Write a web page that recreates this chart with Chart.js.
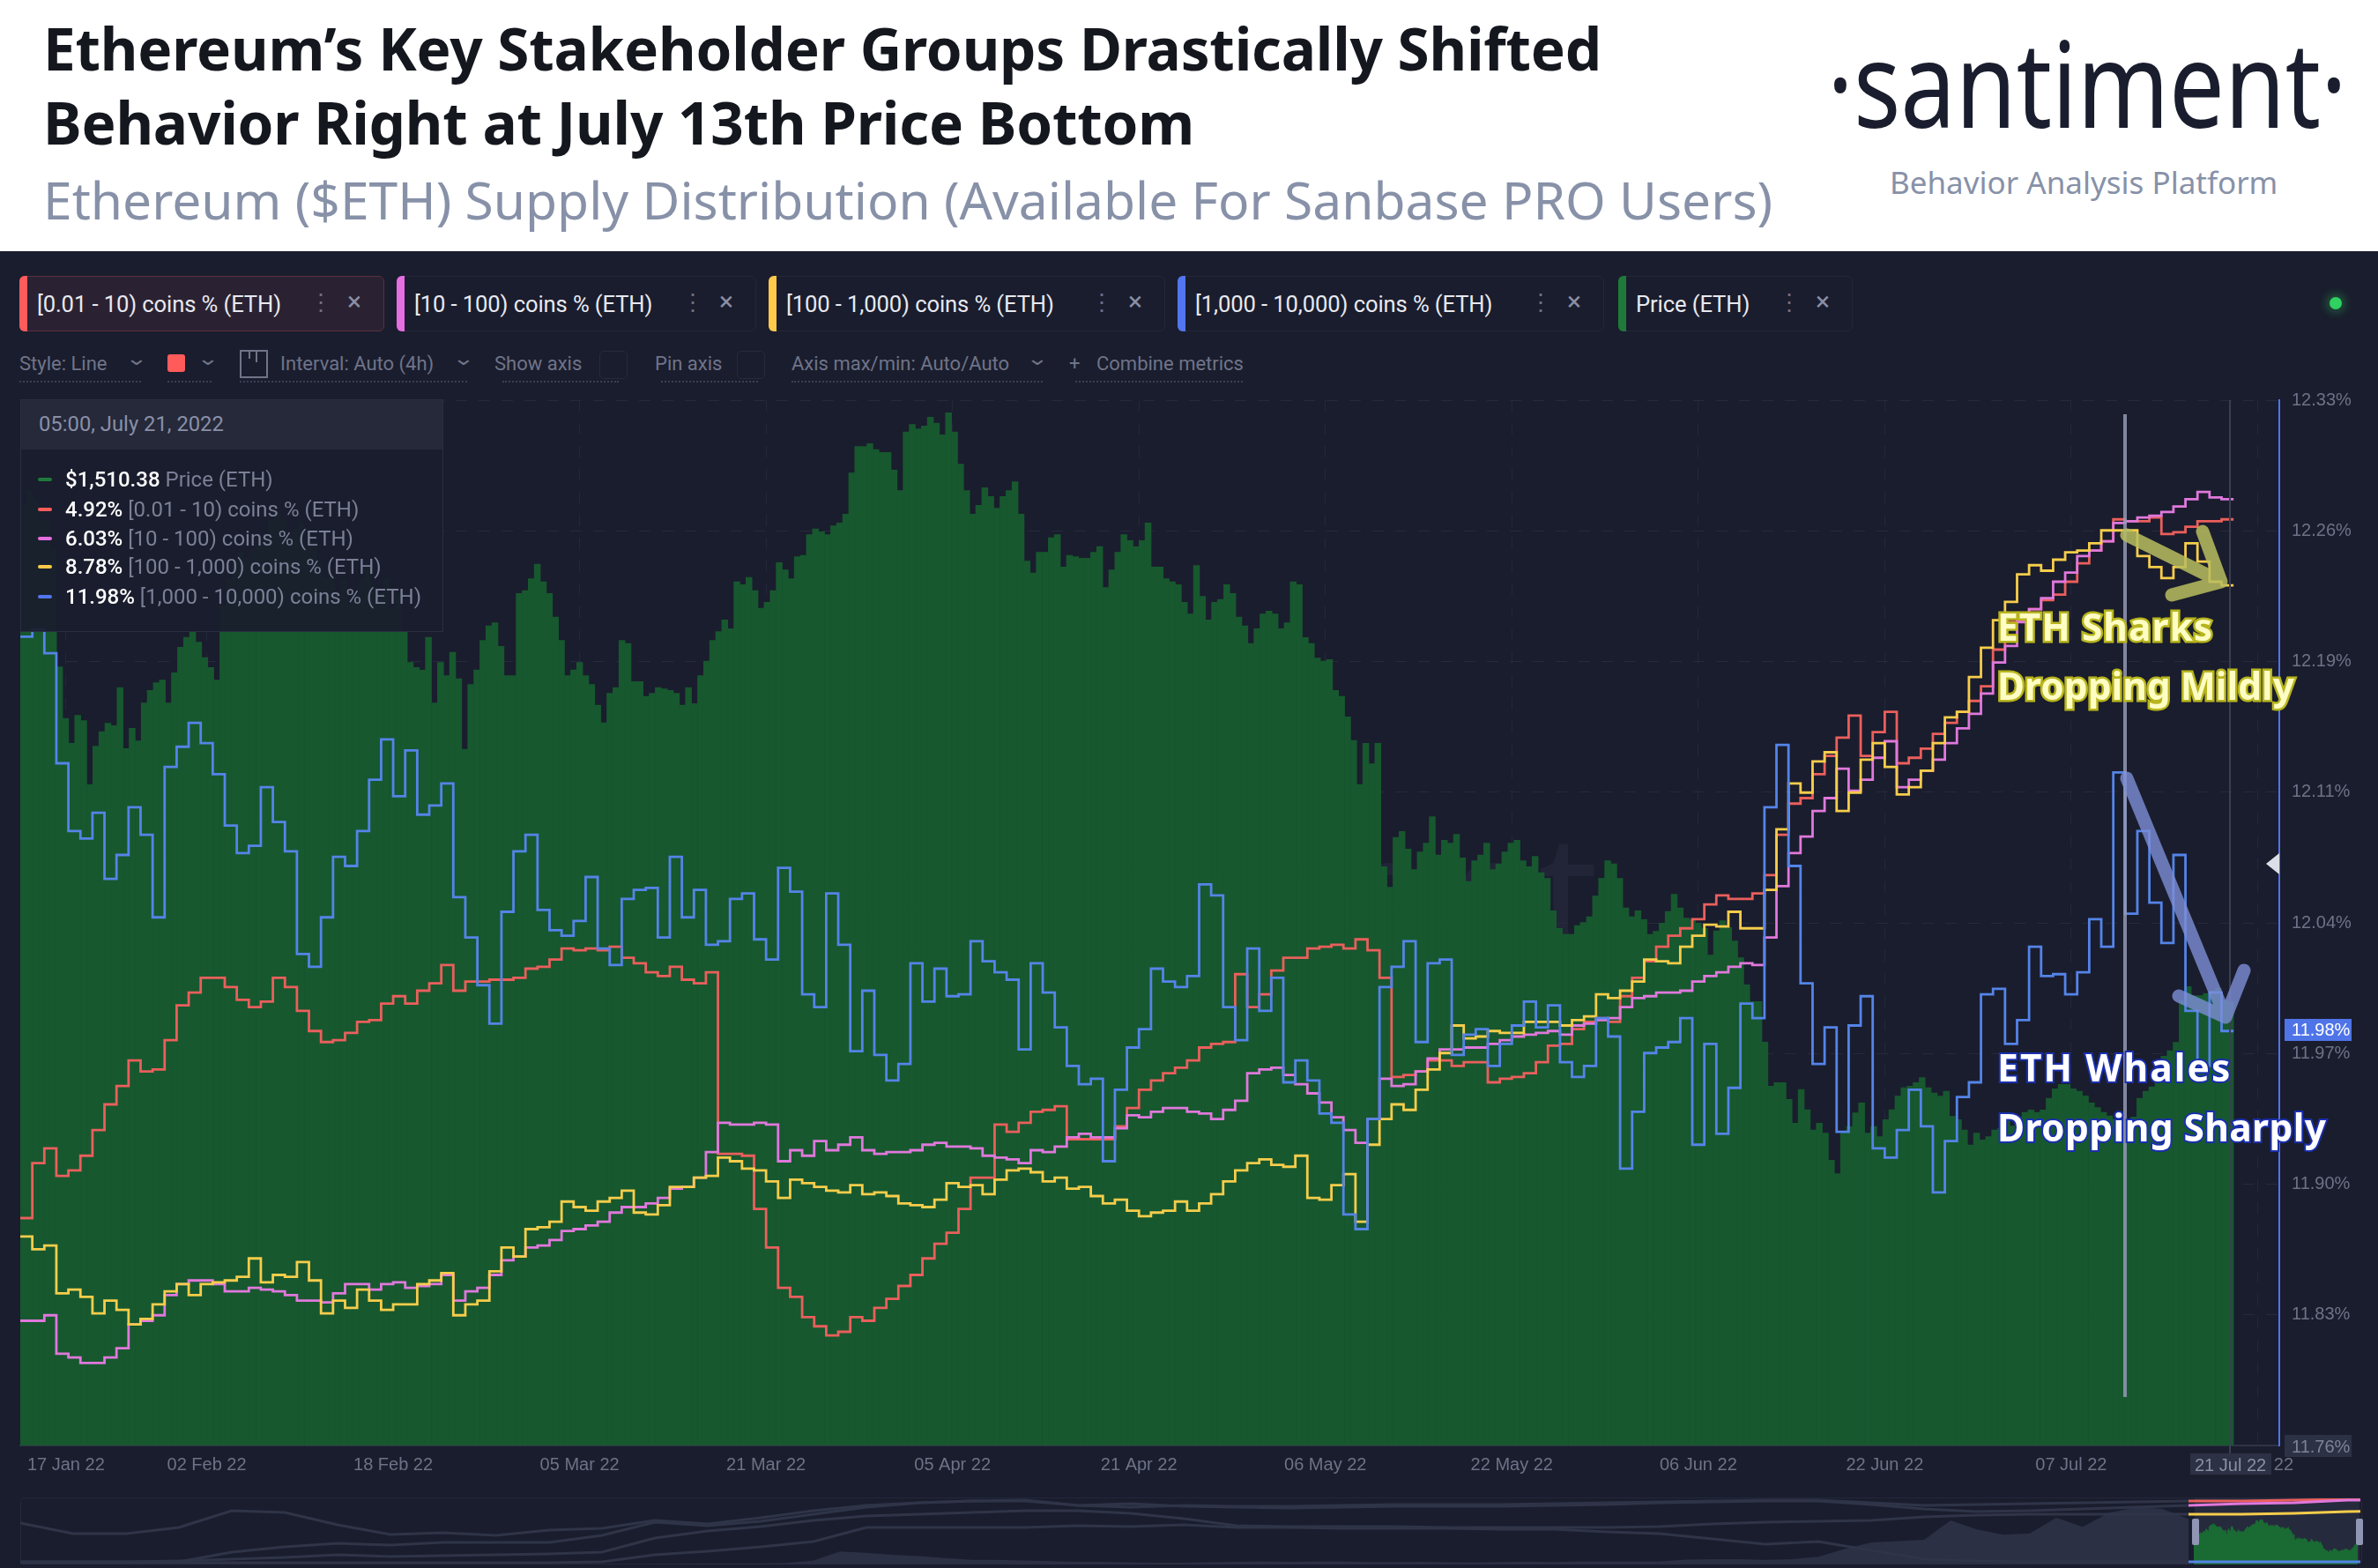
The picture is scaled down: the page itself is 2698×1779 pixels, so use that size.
<!DOCTYPE html>
<html>
<head>
<meta charset="utf-8">
<title>Ethereum supply distribution</title>
<script src="https://cdn.jsdelivr.net/npm/chart.js@4"></script>
<style>
html,body{margin:0;padding:0;background:#1a1d2d;}
#page{position:relative;width:2698px;height:1779px;overflow:hidden;background:#1a1d2d;font-family:"Liberation Sans",Arial,sans-serif;}
#page div,#page span.a{position:absolute;white-space:nowrap;}
#head{left:0;top:0;width:2698px;height:285px;background:#fff;}
.title{left:49px;font:700 65.6px/1 "Noto Sans",sans-serif;color:#15171f;letter-spacing:-.2px;}
.chip{top:313px;height:61px;border:1px solid #23273a;border-radius:6px;background:#1a1d2d;box-sizing:content-box;}
.chip .bar{left:-1px;top:-1px;width:9px;height:63px;border-radius:6px 0 0 6px;}
.chip .lab{left:19px;top:17px;font:25.6px/28px Roboto,sans-serif;color:#e8e9f0;letter-spacing:-.1px;}
.chip .keb{top:13px;font:26px/32px Roboto,sans-serif;color:#6b7086;}
.chip .x{top:12px;font:30px/32px Roboto,sans-serif;color:#8a8fa6;}
.ctl{top:400px;font:22px/26px Roboto,sans-serif;color:#6f7489;}
.chev{top:394px;font:22px/26px Roboto,sans-serif;color:#6f7489;transform:scaleX(1.4);}
.dots{top:432px;height:0;border-top:2px dotted #3a3f55;}
.box{top:398px;width:30px;height:30px;border:1px solid #262a3c;border-radius:5px;}
.tt{left:74px;font:24px/26px Roboto,sans-serif;color:#7b8097;}
.tt b{color:#fff;font-weight:500;}
.sw{left:43px;width:16px;height:4px;border-radius:2px;}
.note{font:700 42.5px/1 "Noto Sans",sans-serif;left:2266px;paint-order:stroke fill;}
.shark{color:#fdfdc4;-webkit-text-stroke:5px #b8b51e;}
.whale{color:#fff;-webkit-text-stroke:4px #1a2fae;}
.ylab{font:20px/24px "Liberation Sans",sans-serif;}
</style>
</head>
<body>
<div id="page">
  <div id="head"></div>
  <div class="title" style="top:22px">Ethereum’s Key Stakeholder Groups Drastically Shifted</div>
  <div class="title" style="top:106px">Behavior Right at July 13th Price Bottom</div>
  <div style="left:49px;top:197px;font:400 58.7px/1 'Noto Sans',sans-serif;color:#8791a8">Ethereum ($ETH) Supply Distribution (Available For Sanbase PRO Users)</div>
  <div style="left:2073px;top:19px;font:400 135px/1.1 'Noto Sans',sans-serif;color:#1a1d2d;transform-origin:left top;transform:scaleX(.826)">·santiment·</div>
  <div style="left:2144px;top:188px;font:400 35px/1.1 'Noto Sans',sans-serif;color:#8791a8">Behavior Analysis Platform</div>

  <div id="chips"></div>
  <div style="left:2643px;top:337px;width:14px;height:14px;border-radius:50%;background:#2fd15f;box-shadow:0 0 8px 5px rgba(47,209,95,.25)"></div>

  <div class="ctl" style="left:22px">Style: Line</div>
  <div class="chev" style="left:146px">⌄</div>
  <div style="left:190px;top:402px;width:20px;height:20px;border-radius:3px;background:#ff5b5b"></div>
  <div class="chev" style="left:227px">⌄</div>
  <div style="left:272px;top:397px;width:28px;height:28px;border:2px solid #6f7489"></div>
  <div style="left:282px;top:398px;width:2px;height:9px;background:#6f7489"></div>
  <div style="left:290px;top:398px;width:2px;height:13px;background:#6f7489"></div>
  <div class="ctl" style="left:318px">Interval: Auto (4h)</div>
  <div class="chev" style="left:517px">⌄</div>
  <div class="ctl" style="left:561px">Show axis</div>
  <div class="box" style="left:680px"></div>
  <div class="ctl" style="left:743px">Pin axis</div>
  <div class="box" style="left:836px"></div>
  <div class="ctl" style="left:898px">Axis max/min: Auto/Auto</div>
  <div class="chev" style="left:1168px">⌄</div>
  <div class="ctl" style="left:1213px">+</div>
  <div class="ctl" style="left:1244px">Combine metrics</div>
  <div class="dots" style="left:22px;width:138px"></div>
  <div class="dots" style="left:190px;width:50px"></div>
  <div class="dots" style="left:272px;width:258px"></div>
  <div class="dots" style="left:570px;width:132px"></div>
  <div class="dots" style="left:750px;width:110px"></div>
  <div class="dots" style="left:898px;width:285px"></div>
  <div class="dots" style="left:1220px;width:190px"></div>

  <div style="left:910px;top:915px;font:400 190px/1 'Noto Sans',sans-serif;color:#212537">santiment</div>
  <canvas id="main" width="2698" height="1410" style="position:absolute;left:0;top:285px"></canvas>

  <svg width="2698" height="1779" style="position:absolute;left:0;top:0">
    <line x1="2530" y1="454" x2="2530" y2="1650" stroke="#3a3e52" stroke-width="2"/>
    <line x1="2411" y1="470" x2="2411" y2="1585" stroke="#9499b5" stroke-width="4" opacity=".85"/>
    <g fill="none" stroke="#b9bd5f" stroke-width="15" stroke-linecap="round" stroke-linejoin="round" opacity=".85">
      <path d="M2413 607L2520 660M2499 603L2520 660L2464 675"/>
    </g>
    <g fill="none" stroke="#7d8ed6" stroke-width="15" stroke-linecap="round" stroke-linejoin="round" opacity=".8">
      <path d="M2413 883L2525 1154M2546 1101L2525 1154L2472 1130"/>
    </g>
    <polygon points="2586,968 2571,980 2586,992" fill="#dcdfe8"/>
  </svg>

  <div class="note shark" style="top:690px;letter-spacing:1px">ETH Sharks</div>
  <div class="note shark" style="top:757px">Dropping Mildly</div>
  <div class="note whale" style="top:1190px;letter-spacing:2.1px">ETH Whales</div>
  <div class="note whale" style="top:1258px;letter-spacing:.4px">Dropping Sharply</div>

  <div style="left:2592px;top:1156px;width:76px;height:25px;background:#4f74e8"></div>
  <div class="ylab" style="left:2600px;top:1156px;color:#fff">11.98%</div>
  <div style="left:2592px;top:1628px;width:76px;height:25px;background:#2c3145"></div>
  <div class="ylab" style="left:2600px;top:1629px;color:#7d8298">11.76%</div>
  <div style="left:2485px;top:1649px;width:92px;height:24px;background:#2c3145"></div>
  <div class="ylab" style="left:2490px;top:1650px;color:#8a8fa6">21 Jul 22</div>

  <div style="left:23px;top:453px;width:478px;height:262px;background:rgba(26,29,45,.93);border:1px solid #2a2e42"></div>
  <div style="left:24px;top:454px;width:478px;height:56px;background:#252939"></div>
  <div style="left:44px;top:468px;font:23.8px/26px Roboto,sans-serif;color:#8a8fa8">05:00, July 21, 2022</div>
  <div id="rows"></div>

  <div style="left:23px;top:1699px;width:2655px;height:74px;border:1px solid #24283a;border-radius:4px"></div>
  <div style="left:2490px;top:1700px;width:187px;height:73px;background:#262a3d"></div>
  <canvas id="mini" width="2655" height="75" style="position:absolute;left:23px;top:1700px"></canvas>
  <div style="left:2487px;top:1723px;width:8px;height:30px;background:#8f95b3;border-radius:2px"></div>
  <div style="left:2673px;top:1723px;width:8px;height:30px;background:#8f95b3;border-radius:2px"></div>
</div>

<script>
// share of supply per band (one step per interval, all on the visible % scale)
const blue = [12.201,12.205,12.192,12.132,12.095,12.091,12.105,12.069,12.082,12.108,12.093,12.048,12.130,12.141,12.154,12.143,12.126,12.098,12.083,12.087,12.119,12.100,12.084,12.028,12.021,12.048,12.081,12.076,12.095,12.123,12.145,12.114,12.139,12.104,12.109,12.121,12.059,12.037,12.011,11.990,12.051,12.084,12.093,12.052,12.041,12.038,12.046,12.070,12.031,12.022,12.058,12.063,12.064,12.037,12.081,12.048,12.063,12.033,12.035,12.058,12.061,12.036,12.025,12.075,
12.062,12.006,11.999,12.061,12.033,11.975,12.008,11.973,11.959,11.968,12.023,12.002,12.020,12.005,12.006,12.035,12.024,12.018,12.014,11.976,12.023,12.007,11.988,11.967,11.957,11.960,11.915,11.954,11.977,11.987,12.020,12.013,12.010,12.016,12.066,12.060,11.999,11.981,12.031,11.997,12.015,11.958,11.970,11.959,11.941,11.936,11.886,11.878,11.938,12.010,12.021,12.035,11.980,12.023,12.025,11.973,11.984,11.987,11.967,11.979,11.989,12.002,11.988,12.000,11.969,11.961,11.967,11.993,11.983,11.911,11.942,11.974,11.977,11.980,11.993,11.924,11.979,11.930,11.955,12.001,11.993,
12.108,12.142,12.076,12.012,11.968,11.988,11.931,11.989,12.005,11.922,11.917,11.932,11.954,11.934,11.898,11.926,11.950,11.958,12.006,12.009,11.979,11.992,12.032,12.016,12.017,12.006,12.018,12.047,12.032,
12.127,12.050,12.095,12.056,12.034,12.082,11.997,11.967,12.007,11.986];

const red = [11.884,11.914,11.922,11.907,11.910,11.918,11.932,11.946,11.956,11.970,11.964,11.965,11.981,12.000,12.007,12.015,12.015,12.010,12.003,11.999,12.002,12.015,12.010,11.997,11.986,11.980,11.981,11.985,11.991,11.992,12.001,12.005,12.001,12.008,12.012,12.022,12.008,12.013,12.013,12.014,12.014,12.015,12.020,12.021,12.025,12.031,12.030,12.031,12.030,12.032,12.026,12.023,12.018,12.016,12.021,12.014,12.012,12.018,11.919,11.919,11.918,11.889,11.868,11.846,
11.841,11.830,11.825,11.820,11.822,11.830,11.828,11.835,11.840,11.847,11.853,11.862,11.870,11.876,11.889,11.906,11.906,11.935,11.931,11.936,11.942,11.943,11.945,11.927,11.927,11.927,11.927,11.934,11.944,11.954,11.959,11.963,11.966,11.970,11.977,11.979,11.980,12.017,11.999,12.006,12.019,12.026,12.026,12.031,12.032,12.033,12.031,12.036,12.030,12.015,11.961,11.962,11.964,11.970,11.970,11.967,11.969,11.969,11.958,11.960,11.961,11.963,11.969,11.978,11.979,11.987,11.991,11.993,11.991,12.005,12.015,12.024,12.032,12.038,12.042,12.047,12.055,12.060,12.058,12.058,12.061,
12.071,12.093,12.110,12.113,12.126,12.136,12.146,12.158,12.136,12.149,12.160,12.132,12.135,12.140,12.148,12.154,12.160,12.166,12.174,
12.194,12.209,12.210,12.216,12.221,12.224,12.231,12.241,12.248,12.253,12.265,12.264,12.264,12.266,12.257,12.258,12.261,12.264,12.264,12.265];

const pink = [11.828,11.828,11.831,11.810,11.808,11.805,11.805,11.808,11.813,11.826,11.828,11.831,11.842,11.848,11.850,11.850,11.848,11.844,11.844,11.846,11.845,11.844,11.842,11.839,11.839,11.838,11.843,11.848,11.848,11.845,11.848,11.849,11.846,11.847,11.848,11.853,11.839,11.844,11.846,11.853,11.861,11.863,11.868,11.869,11.872,11.877,11.878,11.880,11.882,11.887,11.890,11.890,11.892,11.895,11.900,11.901,11.906,11.920,11.936,11.935,11.935,11.936,11.935,11.915,
11.921,11.918,11.926,11.921,11.924,11.928,11.921,11.919,11.920,11.920,11.921,11.924,11.925,11.923,11.923,11.922,11.918,11.917,11.916,11.914,11.921,11.920,11.923,11.928,11.930,11.928,11.928,11.933,11.940,11.939,11.942,11.944,11.944,11.942,11.941,11.938,11.943,11.948,11.963,11.965,11.966,11.962,11.957,11.952,11.947,11.939,11.932,11.925,11.938,11.960,11.956,11.957,11.964,11.971,11.976,11.976,11.977,11.977,11.979,11.981,11.983,11.984,11.985,11.986,11.984,11.989,11.990,11.992,11.993,11.999,12.004,12.005,12.007,12.007,12.008,12.013,12.016,12.018,12.021,12.023,12.022,
12.037,12.065,12.083,12.092,12.106,12.113,12.129,12.117,12.123,12.135,12.144,12.119,12.123,12.128,12.134,12.143,12.151,12.159,12.170,
12.187,12.196,12.209,12.216,12.222,12.231,12.236,12.245,12.248,12.253,12.263,12.264,12.266,12.267,12.269,12.272,12.276,12.280,12.277,12.276];

const yellow = [11.874,11.867,11.869,11.843,11.845,11.841,11.832,11.839,11.834,11.826,11.829,11.837,11.844,11.848,11.842,11.848,11.849,11.850,11.852,11.862,11.849,11.853,11.852,11.860,11.850,11.832,11.839,11.835,11.845,11.839,11.834,11.837,11.837,11.848,11.850,11.854,11.831,11.837,11.839,11.855,11.868,11.863,11.878,11.879,11.882,11.893,11.890,11.888,11.893,11.895,11.899,11.887,11.886,11.891,11.901,11.901,11.906,11.907,11.917,11.915,11.911,11.910,11.904,11.895,
11.905,11.903,11.901,11.899,11.898,11.902,11.897,11.898,11.896,11.892,11.891,11.890,11.894,11.903,11.901,11.902,11.897,11.905,11.910,11.911,11.909,11.904,11.906,11.900,11.901,11.896,11.892,11.894,11.888,11.885,11.887,11.888,11.893,11.888,11.892,11.897,11.904,11.910,11.914,11.916,11.913,11.912,11.918,11.895,11.894,11.902,11.908,11.882,11.924,11.938,11.946,11.943,11.954,11.965,11.974,11.989,11.982,11.983,11.986,11.985,11.985,11.991,11.991,11.991,11.989,11.992,11.994,12.006,12.004,12.008,12.013,12.025,12.024,12.023,12.032,12.038,12.044,12.043,12.051,12.042,12.042,
12.063,12.096,12.121,12.116,12.133,12.138,12.106,12.116,12.134,12.143,12.130,12.115,12.119,12.128,12.143,12.157,12.160,12.179,
12.195,12.210,12.220,12.235,12.240,12.237,12.243,12.247,12.248,12.252,12.259,12.259,12.259,12.245,12.239,12.233,12.239,12.252,12.242,12.231,12.229];

// ETH price in USD, two readings per step
const price = [3200,3250,3220,3150,3150,3050,2650,2475,2390,2485,2467,2250,2380,2430,2458,2450,2580,2372,2441,2398,2527,2570,2596,2605,2527,2630,2717,2751,2768,2734,2682,2648,2605,
2860,2950,3000,3040,3020,3050,3060,3100,3150,3180,3150,3100,3120,3140,3060,3080,3000,2950,2960,2900,2950,2880,2900,2950,3000,2920,2900,2950,2850,2900,
2768,2665,2648,2639,2751,2527,2665,
2620,2700,2610,2370,2590,2640,2740,2790,2800,2720,2620,2620,2900,2910,2950,3000,2940,2900,2820,2740,2620,2640,2665,2620,2590,2520,2460,2560,2580,2740,2730,2600,2600,2550,2560,2580,2575,2570,2560,2520,2580,2525,2620,2670,2740,2770,2810,2780,2940,2930,2955,2910,2850,2870,2910,3005,2980,2950,3025,3030,3100,3120,3110,3100,3130,3140,3170,3310,3400,3400,3410,3390,3380,3380,3320,3250,3450,3475,3460,3470,3500,3480,3440,3515,3450,3340,3250,3170,3200,3260,3230,3190,3230,3250,3280,3170,3010,2970,3040,3040,3090,3100,2990,3030,3025,3020,3020,3040,3060,2920,2980,3040,3100,3080,3060,3080,3140,2990,
2990,2950,2940,2930,2870,2830,2995,2890,2810,2870,2880,2930,2900,2820,2790,2730,2780,2830,2840,2830,2780,2800,2940,2930,2750,2730,2680,2670,2675,2570,2550,2480,2400,2250,2390,2320,2390,1970,1900,2070,2090,2030,1960,2020,2050,2140,2010,2060,2050,2080,2000,1920,1990,2010,2050,1960,1980,2020,2050,2060,1990,1970,2005,1950,1930,1820,1760,1740,1740,1770,1780,1800,1870,1930,1990,1980,1930,1830,1800,1820,1790,1740,1750,
1778,1818,1876,1830,1795,1790,1778,1761,1669,
1752,1786,1763,1717,1660,1568,1511,1511,1373,1223,1235,1235,1178,1097,1212,1143,1074,1097,1063,971,925,1063,1086,1132,1166,1063,1086,1051,1109,1143,1189,1218,1223,1235,1252,1218,1200,1189,1206,1120,1109,1074,1023,1063,1040,1051,1074,1080,1120,
1087,1118,1134,1142,1134,1142,1182,1214,1229,1229,1214,1206,1190,1166,1150,1134,1122,1110,1103,1103,1118,1182,1206,1221,1237,1325,1344,1372,1515,1562,1531,1531,1539,1547,1555,1515,1510];

const yTickValues = [12.33,12.25875,12.1875,12.11625,12.045,11.97375,11.9025,11.83125,11.76];
const yTickLabels = ['12.33%','12.26%','12.19%','12.11%','12.04%','11.97%','11.90%','11.83%','11.76%'];
const xTickLabels = ['17 Jan 22','02 Feb 22','18 Feb 22','05 Mar 22','21 Mar 22','05 Apr 22','21 Apr 22','06 May 22','22 May 22','06 Jun 22','22 Jun 22','07 Jul 22','22 Jul 22'];
const xTickSteps = [3.8,15.5,31,46.5,62,77.5,93,108.5,124,139.5,155,170.5,186];

// overview strip: whole history, normalised line heights and USD price
const miniA = [47,35,35,42,61,59,45,34,36,33,39,41,50,46,53,61,67,70,72,72,67,65,67,66,66,67,68,68,68,69,70,71,72,73,73,70,67,68,69,70,71,72,72,73,74,74];
const miniB = [3,3,3,3,14,20,24,22,25,25,25,33,48,44,49,57,65,70,72,73,67,69,66,65,64,65,66,66,66,67,68,70,71,72,72,68,63,60,61,63,65,67,69,70,73,73];
const miniC = [3,3,3,4,6,8,11,9,10,11,12,14,30,38,43,50,55,57,59,61,61,58,52,44,43,43,43,42,42,42,42,43,46,48,49,50,54,56,57,57,57,57,57,58,60,61];
const miniD = [2,2,2,2,2,2,2,2,2,2,2,3,11,15,20,26,42,42,42,42,44,43,45,42,42,41,41,41,40,40,37,35,29,23,26,16,6,4,3,3,3,3,3,3,3,3];
const miniPrice = [0,0,0,0,0,0,0,0,0,0,0,0,0,0,0,0,0,0,0,0,0,0,0,0,30,70,90,90,80,120,300,1000,900,750,650,500,350,350,300,250,200,200,150,140,140,170,200,230,210,240,230,190,190,200,170,150,190,220,180,230,240,230,240,370,400,400,350,400,600,1200,1700,1800,1900,3400,2700,2300,2400,3600,2900,4000,4400,4300,3500];

const COLORS = {red:'#ea5f5c', pink:'#e078dc', yellow:'#f6cd4b', blue:'#5484e8', green:'#17582f'};

// chips and tooltip rows
const chipNames = ['[0.01 - 10) coins % (ETH)','[10 - 100) coins % (ETH)','[100 - 1,000) coins % (ETH)','[1,000 - 10,000) coins % (ETH)','Price (ETH)'];
const chipColors = ['#ff5b5b','#e56ee0','#ffc94a','#5276f0','#1f7a3a'];
const chipLeft = [22,450,872,1336,1836], chipRight = [434,856,1320,1818,2100];
let chipHtml = '';
chipNames.forEach((n,i) => {
  const w = chipRight[i]-chipLeft[i];
  const hot = i===0 ? 'background:#2a2232;border-color:#5c3040;' : '';
  chipHtml += `<div class="chip" style="left:${chipLeft[i]}px;width:${w}px;${hot}"><div class="bar" style="background:${chipColors[i]}"></div><div class="lab">${n}</div><div class="keb" style="left:${w-84}px">⋮</div><div class="x" style="left:${w-41}px">×</div></div>`;
});
document.getElementById('chips').innerHTML = chipHtml;

const rowVals = ['$1,510.38','4.92%','6.03%','8.78%','11.98%'];
const rowNames = ['Price (ETH)','[0.01 - 10) coins % (ETH)','[10 - 100) coins % (ETH)','[100 - 1,000) coins % (ETH)','[1,000 - 10,000) coins % (ETH)'];
const rowColors = ['#1f7a3a','#ff5b5b','#e56ee0','#ffc94a','#5276f0'];
const rowTop = [531,565,598,630,664];
let rowHtml = '';
rowVals.forEach((v,i) => {
  rowHtml += `<div class="sw" style="top:${rowTop[i]+11}px;background:${rowColors[i]}"></div><div class="tt" style="top:${rowTop[i]}px"><b>${v}</b> ${rowNames[i]}</div>`;
});
document.getElementById('rows').innerHTML = rowHtml;

// a step line needs one more point to close its last interval
const steps = vals => vals.map((v,i) => ({x:i,y:v})).concat({x:vals.length,y:vals[vals.length-1]});
const lineSet = (vals,color) => ({type:'line',data:steps(vals),borderColor:color,borderWidth:2.8,stepped:true,pointRadius:0,tension:0,yAxisID:'y',order:1});

new Chart(document.getElementById('main'), {
  data: {
    datasets: [
      lineSet(blue,COLORS.blue),
      lineSet(yellow,COLORS.yellow),
      lineSet(pink,COLORS.pink),
      lineSet(red,COLORS.red),
      {type:'bar',data:price.map((v,k) => ({x:(k+0.5)*blue.length/price.length,y:v})),backgroundColor:COLORS.green,barPercentage:1,categoryPercentage:1,yAxisID:'yPrice',order:5}
    ]
  },
  options: {
    responsive:false, animation:false, parsing:true,
    layout:{padding:{left:23,top:169,right:0,bottom:0}},
    plugins:{legend:{display:false},tooltip:{enabled:false}},
    scales:{
      // bar datasets switch offset on by default, which would push the data inward
      x:{type:'linear',min:0,max:187.8,offset:false,
        afterBuildTicks:s => { s.ticks = xTickSteps.map(v => ({value:v})); },
        afterFit:s => { s.height = 55; s.paddingLeft = 0; s.paddingRight = 0; },
        border:{color:'#2e3347',width:2,dash:[13,13]},
        grid:{color:'#23273a',drawTicks:false,offset:false},
        ticks:{autoSkip:false,maxRotation:0,padding:10,color:'#6d7288',font:{family:'Liberation Sans',size:20},callback:(v,i) => xTickLabels[i]}},
      y:{position:'right',min:11.76,max:12.33,
        afterBuildTicks:s => { s.ticks = yTickValues.map(v => ({value:v})); },
        afterFit:s => { s.width = 112; },
        border:{color:'#4f74e8',width:2,dash:[13,13]},
        grid:{color:'#262a3d',drawTicks:false},
        ticks:{padding:14,color:'#6d7288',font:{family:'Liberation Sans',size:20},callback:(v,i) => yTickLabels[i]}},
      yPrice:{display:false,min:0,max:3558}
    }
  }
});

// overview: grey history, coloured inside the selected window
const winStart = 82.2, winEnd = 88.4;
const miniLine = (vals,color) => ({type:'line',data:vals.map((v,i) => ({x:i*2,y:v})),borderWidth:3,pointRadius:0,tension:0,yAxisID:'yLine',order:1,
  borderColor:'#2f3448',segment:{borderColor:c => c.p0.parsed.x>=winStart-0.3 ? color : '#2f3448'}});
new Chart(document.getElementById('mini'), {
  data:{datasets:[
    miniLine(miniD,COLORS.blue),miniLine(miniC,COLORS.yellow),miniLine(miniB,COLORS.pink),miniLine(miniA,COLORS.red),
    {type:'line',data:miniPrice.map((v,i) => ({x:i,y:v})),borderWidth:0,pointRadius:0,fill:'origin',backgroundColor:'#2c3044',yAxisID:'yUsd',order:6},
    {type:'line',data:price.map((v,k) => ({x:winStart+(winEnd-winStart)*k/(price.length-1),y:v})),borderWidth:0,pointRadius:0,fill:'origin',backgroundColor:'#1a6a33',yAxisID:'yUsd',order:5}
  ]},
  options:{responsive:false,animation:false,layout:{padding:0},
    plugins:{legend:{display:false},tooltip:{enabled:false}},
    scales:{x:{type:'linear',min:0,max:88.5,display:false},
      yLine:{display:false,min:0,max:75},
      yUsd:{display:false,min:0,max:5100}}}
});
</script>
</body>
</html>
